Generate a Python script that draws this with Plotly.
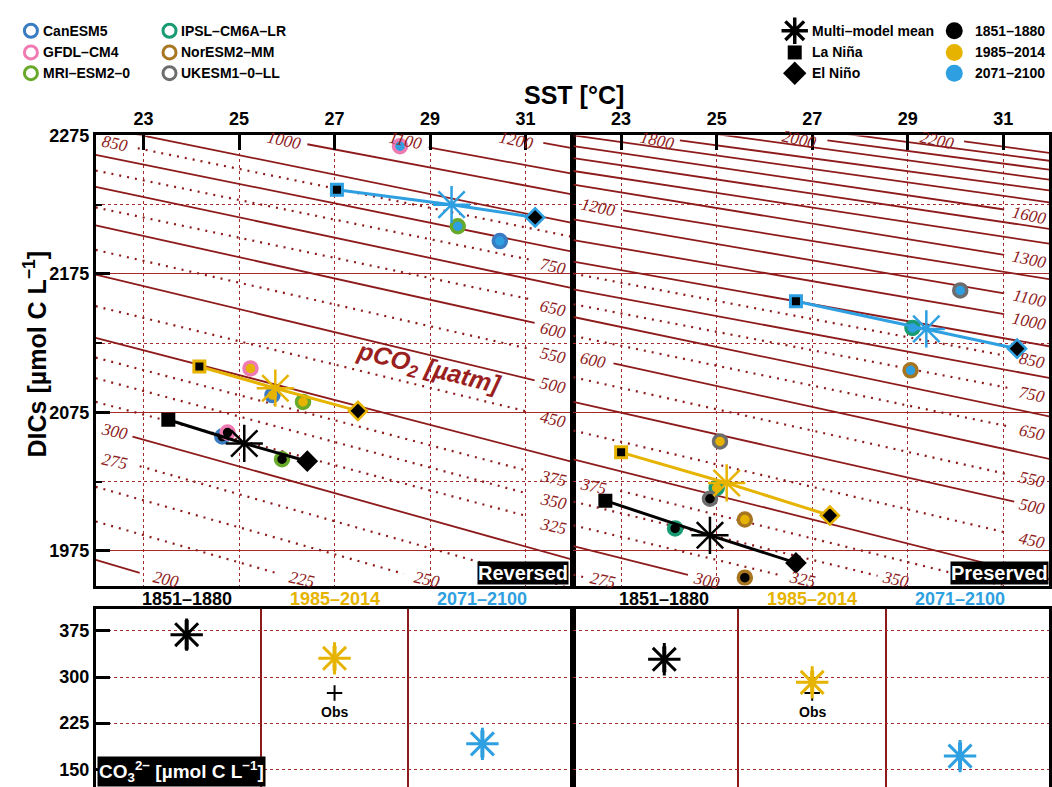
import plotly.graph_objects as go

# ---------------- data ----------------
periods = ["1851–1880", "1985–2014", "2071–2100"]
period_colors = ["#000000", "#e6b400", "#2e9fe0"]

models_rev = ["CanESM5", "GFDL–CM4", "MRI–ESM2–0"]
models_pre = ["IPSL–CM6A–LR", "NorESM2–MM", "UKESM1–0–LL"]
model_colors = {"CanESM5": "#3a7cc1", "GFDL–CM4": "#f07ab2", "MRI–ESM2–0": "#69a92a",
                "IPSL–CM6A–LR": "#1a9a72", "NorESM2–MM": "#a87520", "UKESM1–0–LL": "#6d6d6d"}

# Reversed panel (SST degC, DICs umol C/L); order follows periods
rev_mean_sst = [25.11, 25.76, 29.45]
rev_mean_dic = [2052.6, 2092.5, 2225.0]
rev_nina_sst = [23.52, 24.17, 27.05]
rev_nina_dic = [2069.7, 2108.2, 2235.8]
rev_nino_sst = [26.43, 27.49, 31.20]
rev_nino_dic = [2039.8, 2076.1, 2215.8]
rev_canesm_sst = [24.65, 25.70, 30.46]
rev_canesm_dic = [2057.6, 2087.5, 2198.7]
rev_gfdl_sst = [24.76, 25.24, 28.37]
rev_gfdl_dic = [2060.5, 2106.8, 2267.2]
rev_mri_sst = [25.90, 26.34, 29.58]
rev_mri_dic = [2041.2, 2082.6, 2209.4]

# Preserved panel
pre_mean_sst = [24.86, 25.21, 29.39]
pre_mean_dic = [1986.3, 2024.1, 2135.3]
pre_nina_sst = [22.67, 23.00, 26.66]
pre_nina_dic = [2011.3, 2046.2, 2155.3]
pre_nino_sst = [26.66, 27.37, 31.29]
pre_nino_dic = [1966.4, 2000.6, 2121.0]
pre_ipsl_sst = [24.13, 25.00, 29.10]
pre_ipsl_dic = [1991.3, 2020.5, 2136.0]
pre_noresm_sst = [25.59, 25.59, 29.06]
pre_noresm_dic = [1955.7, 1997.7, 2105.4]
pre_ukesm_sst = [24.86, 25.07, 30.10]
pre_ukesm_dic = [2012.7, 2054.1, 2163.1]

# CO3 2- panels (multi-model mean and spread)
co3_rev_mean = [369.0, 330.5, 191.3]
co3_rev_spread = [24.0, 20.0, 22.0]
co3_pre_mean = [328.9, 291.4, 171.4]
co3_pre_spread = [21.0, 19.0, 22.0]
co3_obs = [274.0]

# pCO2 isolines, Reversed panel: level, start (SST, DIC), end (SST, DIC)
rev_iso_level = [1200, 1100, 1000, 900, 850, 800, 750, 700, 650, 600, 550, 500, 450, 400,
                 375, 350, 325, 300, 275, 250, 225, 200]
rev_iso_sst0 = [31.37, 28.97, 26.43, 22, 22.88, 22, 22, 22, 22, 22, 22, 22, 22, 22,
                22, 22, 22, 22.77, 22.92, 22, 22, 22]
rev_iso_dic0 = [2269.6, 2266.3, 2268.6, 2281.8, 2265.7, 2261.0, 2249.6, 2237.9, 2223.0, 2210.1,
                2192.3, 2174.5, 2151.7, 2128.9, 2114.6, 2099.7, 2082.6, 2057.6, 2036.2, 2021.3,
                1996.3, 1968.5]
rev_iso_sst1 = [32, 32, 32, 32, 32, 32, 31.10, 32, 31.10, 31.19, 31.06, 31.19, 31.06, 32,
                31.06, 31.06, 31.06, 32, 32, 28.45, 25.84, 22.92]
rev_iso_dic1 = [2265.7, 2247.2, 2232.2, 2211.6, 2201.6, 2190.9, 2185.2, 2164.5, 2156.7, 2139.6,
                2121.0, 2098.2, 2075.4, 2039.1, 2032.7, 2016.3, 1999.9, 1968.5, 1947.8, 1958.5,
                1958.5, 1959.2]
rev_lab_text = ["850", "1000", "1100", "1200", "750", "650", "600", "550", "500", "450",
                "375", "350", "325", "300", "275", "200", "225", "250"]
rev_lab_sst = [22.40, 25.95, 28.49, 30.81, 31.58, 31.58, 31.58, 31.58, 31.58, 31.58,
               31.58, 31.58, 31.58, 22.40, 22.40, 23.48, 26.32, 28.93]
rev_lab_dic = [2269.3, 2271.5, 2271.5, 2271.5, 2180.2, 2150.3, 2133.9, 2116.1, 2094.7, 2069.7,
               2027.0, 2010.6, 1992.8, 2061.2, 2039.8, 1954.3, 1954.3, 1954.3]

# pCO2 isolines, Preserved panel
pre_iso_level = [2200, 2100, 2000, 1900, 1800, 1700, 1600, 1500, 1400, 1300, 1200, 1100, 1000,
                 900, 850, 800, 750, 700, 650, 600, 550, 500, 450, 400, 375, 350, 325, 300, 275]
pre_iso_sst0 = [30.18, 22, 27.32, 22, 24.23, 22, 22, 22, 22, 22, 23.04, 22, 22,
                22, 22, 22, 22, 22, 22, 22.84, 22, 22, 22, 22, 22.98, 22, 22, 22, 22]
pre_iso_dic0 = [2270.7, 2302.1, 2271.4, 2290.0, 2271.4, 2275.0, 2267.2, 2258.6, 2249.3, 2239.4,
                2220.8, 2214.4, 2199.4, 2183.8, 2175.2, 2163.8, 2153.1, 2143.9, 2130.3, 2110.4,
                2100.4, 2082.6, 2061.9, 2041.2, 2018.4, 2010.6, 1993.5, 1978.5, 1957.8]
pre_iso_sst1 = [32, 32, 32, 32, 32, 32, 31.02, 32, 32, 31.02, 32, 31.02, 31.02,
                32, 31.02, 32, 31.14, 32, 31.14, 32, 31.08, 31.23, 31.12, 32, 32, 28.37, 26.38,
                24.40, 22.27]
pre_iso_dic1 = [2262.2, 2256.5, 2250.1, 2242.9, 2235.1, 2226.5, 2221.5, 2207.3, 2196.6, 2188.8,
                2171.0, 2161.0, 2146.0, 2122.5, 2116.1, 2099.7, 2092.5, 2071.9, 2064.7, 2041.2,
                2030.5, 2010.6, 1987.8, 1954.3, 1941.4, 1957.1, 1957.1, 1957.8, 1955.7]
pre_lab_text = ["1800", "2000", "2200", "1200", "1600", "1300", "1100", "1000", "850", "750",
                "650", "550", "500", "450", "600", "375", "275", "300", "325", "350"]
pre_lab_sst = [23.77, 26.74, 29.62, 22.52, 31.56, 31.56, 31.56, 31.56, 31.60, 31.60,
               31.60, 31.60, 31.60, 31.60, 22.42, 22.42, 22.63, 24.78, 26.80, 28.74]
pre_lab_dic = [2271.5, 2272.0, 2271.5, 2223.0, 2217.3, 2185.2, 2157.4, 2141.0, 2112.5, 2088.3,
               2060.5, 2026.3, 2007.0, 1982.8, 2112.5, 2021.3, 1953.6, 1953.6, 1954.3, 1954.3]

sst_ticks = [23, 25, 27, 29, 31]
dic_ticks = [1975, 2075, 2175, 2275]
dic_minor = [2025, 2125, 2225]
co3_ticks = [150, 225, 300, 375]

# ---------------- figure ----------------
W, H = 1052, 787
ISO = "#8e1b1b"
GRID = "#a52a2a"
FONT = "Liberation Sans"


def px(x):
    return x / W


def py(y):
    return 1 - y / H


fig = go.Figure()


def iso_lines(xa, ya, lev, s0, d0, s1, d1):
    for L, a, b, c, d in zip(lev, s0, d0, s1, d1):
        solid = (L % 100 == 0)
        fig.add_trace(go.Scatter(
            x=[a, c], y=[b, d], mode="lines", xaxis=xa, yaxis=ya,
            line=dict(color=ISO, width=1.8 if solid else 2.2,
                      dash="solid" if solid else "2px,6px"),
            hoverinfo="skip", showlegend=False))


def iso_labels(xref, yref, texts, ss, dd):
    for t, s, d in zip(texts, ss, dd):
        fig.add_annotation(x=s, y=d, xref=xref, yref=yref, text=t, showarrow=False,
                           textangle=12, xanchor="center", yanchor="middle",
                           font=dict(family="Liberation Serif", size=17, color=ISO,
                                     style="italic"))


def model_circles(xa, ya, sst, dic, name):
    fig.add_trace(go.Scatter(
        x=sst, y=dic, mode="markers", xaxis=xa, yaxis=ya, name=name,
        marker=dict(symbol="circle", size=13, color=period_colors,
                    line=dict(color=model_colors[name], width=3.5)),
        showlegend=False))


def enso(xa, ya, ns, nd, ms, md, es, ed):
    for i in range(3):
        fig.add_trace(go.Scatter(
            x=[ns[i], ms[i], es[i]], y=[nd[i], md[i], ed[i]], mode="lines",
            xaxis=xa, yaxis=ya, line=dict(color=period_colors[i], width=3),
            hoverinfo="skip", showlegend=False))
    fig.add_trace(go.Scatter(
        x=ns, y=nd, mode="markers", xaxis=xa, yaxis=ya, showlegend=False,
        marker=dict(symbol="square", size=11, color="black",
                    line=dict(color=period_colors, width=3))))
    fig.add_trace(go.Scatter(
        x=es, y=ed, mode="markers", xaxis=xa, yaxis=ya, showlegend=False,
        marker=dict(symbol="diamond", size=14, color="black",
                    line=dict(color=period_colors, width=2.5))))
    fig.add_trace(go.Scatter(
        x=ms, y=md, mode="markers", xaxis=xa, yaxis=ya, showlegend=False,
        marker=dict(symbol="asterisk-open", size=31, color=period_colors,
                    line=dict(width=2.5))))


# Reversed panel
iso_lines("x", "y", rev_iso_level, rev_iso_sst0, rev_iso_dic0, rev_iso_sst1, rev_iso_dic1)
iso_labels("x", "y", rev_lab_text, rev_lab_sst, rev_lab_dic)
model_circles("x", "y", rev_canesm_sst, rev_canesm_dic, "CanESM5")
model_circles("x", "y", rev_gfdl_sst, rev_gfdl_dic, "GFDL–CM4")
model_circles("x", "y", rev_mri_sst, rev_mri_dic, "MRI–ESM2–0")
enso("x", "y", rev_nina_sst, rev_nina_dic, rev_mean_sst, rev_mean_dic, rev_nino_sst, rev_nino_dic)

# Preserved panel
iso_lines("x2", "y2", pre_iso_level, pre_iso_sst0, pre_iso_dic0, pre_iso_sst1, pre_iso_dic1)
iso_labels("x2", "y2", pre_lab_text, pre_lab_sst, pre_lab_dic)
model_circles("x2", "y2", pre_ipsl_sst, pre_ipsl_dic, "IPSL–CM6A–LR")
model_circles("x2", "y2", pre_noresm_sst, pre_noresm_dic, "NorESM2–MM")
model_circles("x2", "y2", pre_ukesm_sst, pre_ukesm_dic, "UKESM1–0–LL")
enso("x2", "y2", pre_nina_sst, pre_nina_dic, pre_mean_sst, pre_mean_dic, pre_nino_sst, pre_nino_dic)

# pCO2 label
fig.add_annotation(x=28.97, y=2106.0, xref="x", yref="y", showarrow=False, textangle=14,
                   xanchor="center", yanchor="middle",
                   text="<b><i>pCO<sub>2</sub> [µatm]</i></b>",
                   font=dict(family=FONT, size=25, color="#9a1f1f"))

# CO3 panels
pos = [1, 2, 3]
for xa, ya, vals, spread in (("x3", "y3", co3_rev_mean, co3_rev_spread),
                             ("x4", "y4", co3_pre_mean, co3_pre_spread)):
    fig.add_trace(go.Scatter(
        x=[2], y=co3_obs, mode="markers", xaxis=xa, yaxis=ya,
        marker=dict(symbol="cross-thin-open", size=11, color="black", line=dict(width=2)),
        showlegend=False))
    fig.add_annotation(x=2, y=py(711), xref=xa, yref="paper", text="<b>Obs</b>",
                       showarrow=False, xanchor="center", yanchor="middle",
                       font=dict(family=FONT, size=14, color="black"))
    for i in range(3):
        fig.add_trace(go.Scatter(
            x=[pos[i]], y=[vals[i]], mode="markers", xaxis=xa, yaxis=ya, showlegend=False,
            error_y=dict(type="data", array=[spread[i]], color=period_colors[i],
                         thickness=4, width=0),
            marker=dict(symbol="asterisk-open", size=27, color=period_colors[i],
                        line=dict(width=3))))
    for p, lab, col in zip(pos, periods, period_colors):
        fig.add_annotation(x=p, y=py(597), xref=xa, yref="paper", text="<b>%s</b>" % lab,
                           showarrow=False, xanchor="center", yanchor="middle",
                           font=dict(family=FONT, size=18, color=col))

# ---------------- legends (key area) ----------------
leg_rows = [21, 43, 64]
for col_x, names in ((31, models_rev), (170, models_pre)):
    fig.add_trace(go.Scatter(
        x=[col_x] * 3, y=leg_rows, mode="markers", xaxis="x5", yaxis="y5", showlegend=False,
        marker=dict(symbol="circle-open", size=13, color=[model_colors[n] for n in names],
                    line=dict(width=3))))
    for n, yy in zip(names, leg_rows):
        fig.add_annotation(x=col_x + 10, y=yy, xref="x5", yref="y5", text="<b>%s</b>" % n,
                           showarrow=False, xanchor="left", yanchor="middle",
                           font=dict(family=FONT, size=14, color="black"))

fig.add_trace(go.Scatter(x=[797], y=[leg_rows[0]], mode="markers", xaxis="x5", yaxis="y5",
                         showlegend=False,
                         marker=dict(symbol="asterisk-open", size=22, color="black",
                                     line=dict(width=3.5))))
fig.add_trace(go.Scatter(x=[797], y=[leg_rows[1]], mode="markers", xaxis="x5", yaxis="y5",
                         showlegend=False, marker=dict(symbol="square", size=14, color="black")))
fig.add_trace(go.Scatter(x=[797], y=[leg_rows[2]], mode="markers", xaxis="x5", yaxis="y5",
                         showlegend=False, marker=dict(symbol="diamond", size=18, color="black")))
for t, yy in zip(["Multi–model mean", "La Niña", "El Niño"], leg_rows):
    fig.add_annotation(x=812, y=yy, xref="x5", yref="y5", text="<b>%s</b>" % t,
                       showarrow=False, xanchor="left", yanchor="middle",
                       font=dict(family=FONT, size=14, color="black"))
fig.add_trace(go.Scatter(x=[957] * 3, y=leg_rows, mode="markers", xaxis="x5", yaxis="y5",
                         showlegend=False,
                         marker=dict(symbol="circle", size=17, color=period_colors)))
for t, yy in zip(periods, leg_rows):
    fig.add_annotation(x=976, y=yy, xref="x5", yref="y5", text="<b>%s</b>" % t,
                       showarrow=False, xanchor="left", yanchor="middle",
                       font=dict(family=FONT, size=14, color="black"))

# ---------------- titles and boxes ----------------
fig.add_annotation(x=px(576), y=py(86), xref="paper", yref="paper", text="<b>SST [°C]</b>",
                   showarrow=False, xanchor="center", yanchor="middle",
                   font=dict(family=FONT, size=25, color="black"))
fig.add_annotation(x=px(35), y=py(348), xref="paper", yref="paper", textangle=-90,
                   xanchor="center", yanchor="middle",
                   text="<b>DICs [µmol C L<sup>−1</sup>]</b>",
                   showarrow=False, font=dict(family=FONT, size=25, color="black"))
fig.add_annotation(x=px(571), y=py(582), xref="paper", yref="paper", xanchor="right",
                   yanchor="bottom", text="<b>Reversed</b>", showarrow=False, bgcolor="black",
                   borderpad=0, font=dict(family=FONT, size=20, color="white"))
fig.add_annotation(x=px(1052), y=py(582), xref="paper", yref="paper", xanchor="right",
                   yanchor="bottom", text="<b>Preserved</b>", showarrow=False, bgcolor="black",
                   borderpad=0, font=dict(family=FONT, size=20, color="white"))
fig.add_annotation(x=px(97), y=0, xref="paper", yref="paper", xanchor="left",
                   yanchor="bottom", text="<b>CO<sub>3</sub><sup>2−</sup> [µmol C L<sup>−1</sup>]</b>",
                   showarrow=False, bgcolor="black", borderpad=1,
                   font=dict(family=FONT, size=19, color="white"))

# ---------------- axes ----------------
xl = [px(96), px(575)]
xr = [px(575), 1.0]
yt = [py(583), py(127)]
yb = [0.0, py(607)]
frame = dict(showline=True, linecolor="black", linewidth=2.5, mirror=True, zeroline=False)
tickf = dict(family=FONT, size=18, color="black")


def bold(vals):
    return ["<b>%s</b>" % v for v in vals]


xtop = dict(side="top", tickmode="array", tickvals=sst_ticks, ticktext=bold(sst_ticks),
            ticks="inside", ticklen=15, tickwidth=3, tickcolor="black", tickfont=tickf,
            showgrid=True, gridcolor=GRID, griddash="dot", gridwidth=1, **frame)
ygrid = dict(tickmode="array", tickvals=dic_ticks, showgrid=True, gridcolor=GRID, gridwidth=1,
             range=[1950, 2275], **frame)

fig.update_layout(
    width=W, height=H, margin=dict(l=0, r=0, t=0, b=0, pad=0), autosize=False,
    paper_bgcolor="white", plot_bgcolor="white", showlegend=False,
    xaxis=dict(domain=xl, range=[22, 32], anchor="y", **xtop),
    yaxis=dict(domain=yt, anchor="x", ticktext=bold(dic_ticks), ticks="inside", ticklen=15,
               tickwidth=3, tickcolor="black", tickfont=tickf,
               minor=dict(tickvals=dic_minor, ticks="inside", ticklen=7, tickwidth=2,
                          tickcolor="black", showgrid=True, gridcolor=GRID, griddash="dot",
                          gridwidth=1), **ygrid),
    xaxis2=dict(domain=xr, range=[22, 22 + 477 / 47.9], anchor="y2", **xtop),
    yaxis2=dict(domain=yt, anchor="x2", showticklabels=False, ticks="",
                minor=dict(tickvals=dic_minor, ticks="", showgrid=True, gridcolor=GRID,
                           griddash="dot", gridwidth=1), **ygrid),
    xaxis3=dict(domain=xl, range=[0.385, 3.615], anchor="y3", tickvals=[1.5, 2.5],
                showticklabels=False, ticks="", showgrid=True, gridcolor=ISO, gridwidth=1.5,
                **frame),
    yaxis3=dict(domain=yb, range=[121.1, 410.3], anchor="x3", tickvals=co3_ticks,
                ticktext=bold(co3_ticks), ticks="inside", ticklen=15, tickwidth=3,
                tickcolor="black", tickfont=tickf, showgrid=True, gridcolor=GRID,
                griddash="dot", gridwidth=1, **frame),
    xaxis4=dict(domain=xr, range=[0.385, 0.385 + 477 / 148.3], anchor="y4", tickvals=[1.5, 2.5],
                showticklabels=False, ticks="", showgrid=True, gridcolor=ISO, gridwidth=1.5,
                **frame),
    yaxis4=dict(domain=yb, range=[121.1, 410.3], anchor="x4", tickvals=co3_ticks,
                showticklabels=False, ticks="", showgrid=True, gridcolor=GRID,
                griddash="dot", gridwidth=1, **frame),
    xaxis5=dict(domain=[0, 1], range=[0, W], visible=False, anchor="y5"),
    yaxis5=dict(domain=[py(80), 1], range=[80, 0], visible=False, anchor="x5"),
)

fig.write_html("out.html", config={"displayModeBar": False},
               post_script="document.body.style.margin='0';document.body.style.overflow='hidden';")
